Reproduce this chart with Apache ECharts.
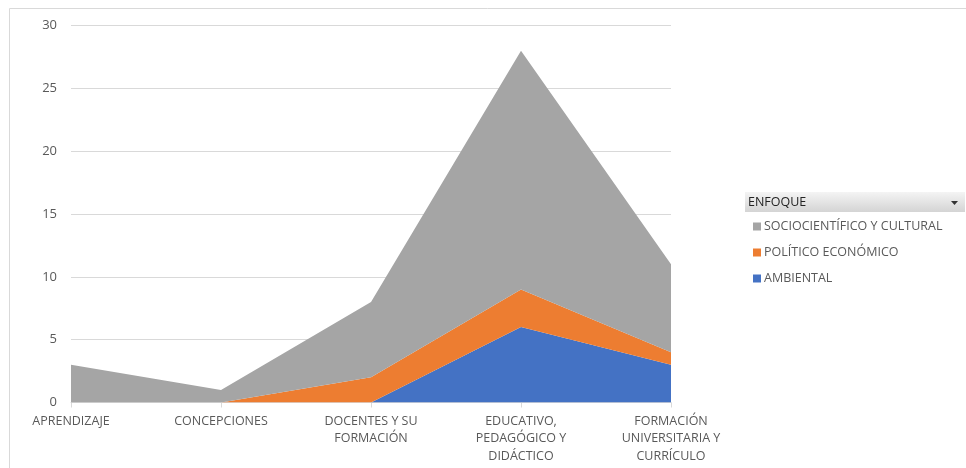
<!DOCTYPE html>
<html>
<head>
<meta charset="utf-8">
<script src="https://cdn.jsdelivr.net/npm/echarts@6/dist/echarts.min.js"></script>
<style>
  html, body { margin: 0; padding: 0; background: #fff; }
  #chart { width: 966px; height: 468px; }
</style>
</head>
<body>
<div id="chart"></div>
<script>
// Categories (temas) and counts per enfoque
const categories = [
  'APRENDIZAJE',
  'CONCEPCIONES',
  'DOCENTES Y SU\nFORMACIÓN',
  'EDUCATIVO,\nPEDAGÓGICO Y\nDIDÁCTICO',
  'FORMACIÓN\nUNIVERSITARIA Y\nCURRÍCULO'
];
const ambiental = [0, 0, 0, 6, 3];
const politicoEconomico = [0, 0, 2, 3, 1];
const sociocientifico = [3, 1, 6, 19, 7];
const yTicks = [0, 5, 10, 15, 20, 25, 30];

const FONT = '"Open Sans", "Noto Sans", sans-serif';
const TEXT = '#595959';

const chart = echarts.init(document.getElementById('chart'));

function areaSeries(name, data, color) {
  return {
    name: name,
    type: 'line',
    stack: 'total',
    data: data,
    symbol: 'none',
    lineStyle: { width: 0 },
    areaStyle: { color: color, opacity: 1 },
    itemStyle: { color: color },
    emphasis: { disabled: true }
  };
}

chart.setOption({
  animation: false,
  textStyle: { fontFamily: FONT },
  grid: { left: 71, right: 295, top: 25.5, bottom: 65.5 },
  legend: {
    orient: 'vertical',
    left: 748,
    top: 215,
    itemWidth: 8,
    itemHeight: 8,
    itemGap: 13,
    icon: 'rect',
    data: ['SOCIOCIENTÍFICO Y CULTURAL', 'POLÍTICO ECONÓMICO', 'AMBIENTAL'],
    textStyle: { color: TEXT, fontSize: 12.5, fontFamily: FONT, padding: [0, 0, 0, -2] }
  },
  xAxis: {
    type: 'category',
    data: categories,
    boundaryGap: false,
    axisLine: { lineStyle: { color: '#d9d9d9', width: 1 } },
    axisTick: { show: true, length: 5, lineStyle: { color: '#d9d9d9' } },
    axisLabel: {
      color: TEXT, fontSize: 12.5, fontFamily: FONT, lineHeight: 17.5,
      margin: 10, interval: 0
    }
  },
  yAxis: {
    type: 'value',
    min: yTicks[0],
    max: yTicks[yTicks.length - 1],
    interval: 5,
    axisLine: { show: false },
    axisTick: { show: false },
    splitLine: { lineStyle: { color: '#d9d9d9', width: 1 } },
    axisLabel: { color: TEXT, fontSize: 13, fontFamily: FONT, margin: 14 }
  },
  series: [
    areaSeries('AMBIENTAL', ambiental, '#4472c4'),
    areaSeries('POLÍTICO ECONÓMICO', politicoEconomico, '#ed7d31'),
    areaSeries('SOCIOCIENTÍFICO Y CULTURAL', sociocientifico, '#a5a5a5')
  ],
  graphic: [
    // outer frame (top and left edges)
    { type: 'line', shape: { x1: 9.5, y1: 8.5, x2: 966, y2: 8.5 },
      style: { stroke: '#d9d9d9', lineWidth: 1 } },
    { type: 'line', shape: { x1: 9.5, y1: 8.5, x2: 9.5, y2: 468 },
      style: { stroke: '#d9d9d9', lineWidth: 1 } },
    // field button "ENFOQUE"
    { type: 'rect', shape: { x: 745, y: 192, width: 220, height: 20 },
      style: {
        fill: new echarts.graphic.LinearGradient(0, 0, 0, 1, [
          { offset: 0, color: '#f4f4f4' },
          { offset: 1, color: '#d4d4d4' }
        ])
      } },
    { type: 'text', left: 748, top: 195.5,
      style: { text: 'ENFOQUE', fill: '#222', fontSize: 12.5, fontFamily: FONT } },
    { type: 'polygon', shape: { points: [[951, 201], [958, 201], [954.5, 205]] },
      style: { fill: '#333' } }
  ]
});
</script>
</body>
</html>
